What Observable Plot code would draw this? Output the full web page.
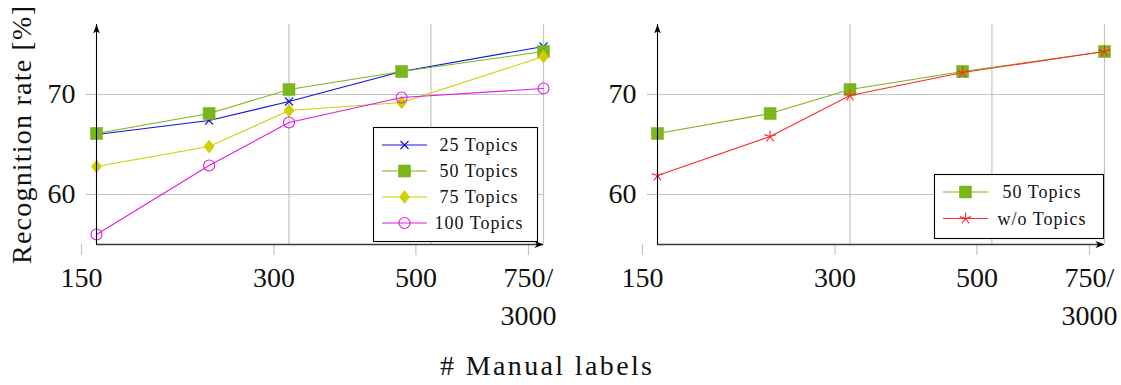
<!DOCTYPE html>
<html>
<head>
<meta charset="utf-8">
<script src="https://cdn.jsdelivr.net/npm/d3@7"></script>
<script src="https://cdn.jsdelivr.net/npm/@observablehq/plot@0.6"></script>
<style>
  html, body { margin: 0; padding: 0; background: #fff; }
  #wrap { position: relative; width: 1121px; height: 385px; overflow: hidden; font-family: 'Liberation Serif', 'Times New Roman', 'DejaVu Serif', serif; }
  #wrap text { font-family: 'Liberation Serif', 'Times New Roman', 'DejaVu Serif', serif !important; }
</style>
</head>
<body>
<div id="wrap"></div>
<script>
// ---------------- data ----------------
const manualLabels = [150, 225, 300, 450, 750];
const topics25  = [66.0, 67.4, 69.3, 72.3, 74.8];
const topics50  = [66.1, 68.1, 70.5, 72.3, 74.3];
const topics75  = [62.8, 64.8, 68.4, 69.2, 73.8];
const topics100 = [56.0, 62.9, 67.2, 69.7, 70.6];
const woTopics  = [61.9, 65.8, 69.9, 72.2, 74.3];

const xTicks = [150, 300, 500, 750];
const xTickLabels = ["150", "300", "500", "750/\n3000"];
const yTicks = [60, 70];
const xDomain = [150, 750];
const yDomain = [55, 77];

const yLabel = "Recognition rate [%]";
const xLabel = "# Manual labels";

const serifFont = "'Liberation Serif', 'Times New Roman', 'DejaVu Serif', serif";

// ---------------- symbols ----------------
const rad = (size) => Math.sqrt(size / Math.PI);
const squareSym = {draw(c, s) { const r = rad(s); c.moveTo(-r, -r); c.lineTo(r, -r); c.lineTo(r, r); c.lineTo(-r, r); c.closePath(); }};
const diamondSym = {draw(c, s) { const r = rad(s), w = r * 0.78; c.moveTo(0, -r); c.lineTo(w, 0); c.lineTo(0, r); c.lineTo(-w, 0); c.closePath(); }};
const timesSym = {draw(c, s) { const r = rad(s); c.moveTo(-r, -r); c.lineTo(r, r); c.moveTo(r, -r); c.lineTo(-r, r); }};
const circleSym = {draw(c, s) { const r = rad(s); c.moveTo(r, 0); c.arc(0, 0, r, 0, 2 * Math.PI); }};
const starSym = {draw(c, s) { const r = rad(s); for (let k = 0; k < 5; k++) { const a = -Math.PI / 2 + k * 2 * Math.PI / 5; c.moveTo(0, 0); c.lineTo(r * Math.cos(a), r * Math.sin(a)); } }};
const arrowSym = {draw(c, s) { const r = rad(s); c.moveTo(0, 0); c.lineTo(r * 0.38, r); c.lineTo(0, r * 0.72); c.lineTo(-r * 0.38, r); c.closePath(); }};

const series = {
  t25:  {name: "25 Topics",  values: topics25,  color: "#1212dc", sym: timesSym,  r: 4,   filled: false},
  t50:  {name: "50 Topics",  values: topics50,  color: "#7db51c", sym: squareSym, r: 6,   filled: true},
  t75:  {name: "75 Topics",  values: topics75,  color: "#cfcf00", sym: diamondSym, r: 6.5, filled: true},
  t100: {name: "100 Topics", values: topics100, color: "#e21ae2", sym: circleSym, r: 5.5, filled: false},
  wo:   {name: "w/o Topics", values: woTopics,  color: "#ff2b2b", sym: starSym,   r: 6,   filled: false}
};

const rowsOf = (s) => manualLabels.map((x, i) => ({x, y: s.values[i]}));
const grid = "#c4c4c4";

function panel(keys, width, marginLeft, marginRight) {
  const marks = [
    Plot.ruleY(yTicks, {x1: xDomain[0], x2: xDomain[1], stroke: grid, strokeWidth: 1.2}),
    Plot.ruleX(xTicks.slice(1), {y1: yDomain[0], y2: yDomain[1], stroke: grid, strokeWidth: 1.2}),
    Plot.axisX(xTicks, {
      tickSize: 11, tickPadding: 4, stroke: grid, fill: "#111", strokeWidth: 1.2,
      tickFormat: (d) => xTickLabels[xTicks.indexOf(d)],
      fontSize: 28, fontFamily: serifFont, lineHeight: 1.36, dx: -15, label: null
    }),
    Plot.axisY(yTicks, {
      tickSize: 10, tickPadding: 11, stroke: grid, fill: "#111", strokeWidth: 1.2,
      fontSize: 28, fontFamily: serifFont, label: null
    })
  ];
  for (const k of keys) {
    const s = series[k];
    const rows = rowsOf(s);
    marks.push(Plot.line(rows, {x: "x", y: "y", stroke: s.color, strokeWidth: 1.1}));
    marks.push(Plot.dot(rows, {
      x: "x", y: "y", symbol: s.sym, r: s.r,
      fill: s.filled ? s.color : "none",
      stroke: s.color, strokeWidth: s.filled ? 0.6 : 1.1
    }));
  }
  marks.push(Plot.ruleY([yDomain[0]], {x1: xDomain[0], x2: xDomain[1], stroke: "#3a3a3a", strokeWidth: 1.6}));
  marks.push(Plot.ruleX([xDomain[0]], {y1: yDomain[0], y2: yDomain[1], stroke: "#000", strokeWidth: 1.1}));
  marks.push(Plot.dot([{x: xDomain[0], y: yDomain[1]}], {x: "x", y: "y", symbol: arrowSym, r: 9, fill: "#000", stroke: "none"}));
  marks.push(Plot.dot([{x: xDomain[1], y: yDomain[0]}], {x: "x", y: "y", symbol: arrowSym, r: 9, rotate: 90, fill: "#000", stroke: "none"}));

  return Plot.plot({
    width, height: 340,
    marginLeft, marginRight, marginTop: 24, marginBottom: 96,
    style: {fontFamily: serifFont, fontSize: "28px", background: "transparent", overflow: "visible", color: "#111"},
    x: {type: "log", domain: xDomain},
    y: {domain: yDomain},
    marks
  });
}

const wrap = document.getElementById("wrap");
const left = panel(["t25", "t50", "t75", "t100"], 560, 96, 17);
left.style.position = "absolute"; left.style.left = "0px"; left.style.top = "0px";
wrap.appendChild(left);
const right = panel(["t50", "wo"], 561, 97, 17);
right.style.position = "absolute"; right.style.left = "560px"; right.style.top = "0px";
wrap.appendChild(right);

// ---------------- overlay: labels + legends ----------------
const ov = d3.select(wrap).append("svg").attr("id", "overlay")
  .attr("width", 1121).attr("height", 385)
  .style("position", "absolute").style("left", "0px").style("top", "0px")
  .style("pointer-events", "none")
  .style("font-family", serifFont);

ov.append("text").text(yLabel)
  .attr("transform", "translate(31,135) rotate(-90)")
  .attr("text-anchor", "middle").attr("font-size", 28).attr("fill", "#111")
  .attr("textLength", 258).attr("lengthAdjust", "spacing");

ov.append("text").text(xLabel)
  .attr("x", 546).attr("y", 375)
  .attr("text-anchor", "middle").attr("font-size", 28).attr("fill", "#111")
  .attr("textLength", 212).attr("lengthAdjust", "spacing");

function legend(keys, x0, y0, w, h, rowYs, lineX0, lineX1, textCx) {
  const g = ov.append("g");
  g.append("rect").attr("x", x0 + 0.5).attr("y", y0 + 0.5).attr("width", w).attr("height", h)
    .attr("fill", "#fff").attr("stroke", "#000").attr("stroke-width", 1.1);
  keys.forEach((k, i) => {
    const s = series[k], y = rowYs[i];
    g.append("line").attr("x1", lineX0).attr("x2", lineX1).attr("y1", y).attr("y2", y)
      .attr("stroke", s.color).attr("stroke-width", 1.1);
    g.append("path").attr("d", d3.symbol(s.sym, Math.PI * s.r * s.r)())
      .attr("transform", `translate(${(lineX0 + lineX1) / 2},${y})`)
      .attr("fill", s.filled ? s.color : "none").attr("stroke", s.color)
      .attr("stroke-width", s.filled ? 0.6 : 1.1);
    g.append("text").text(s.name).attr("x", textCx).attr("y", y)
      .attr("text-anchor", "middle").attr("dominant-baseline", "central")
      .attr("font-size", 18).attr("letter-spacing", "1px").attr("fill", "#111");
  });
}
legend(["t25", "t50", "t75", "t100"], 373, 127, 164, 114, [145, 171, 197, 223], 382, 427, 479);
legend(["t50", "wo"], 934, 174, 169, 64, [192, 218.5], 943, 988, 1042);
</script>
</body>
</html>
